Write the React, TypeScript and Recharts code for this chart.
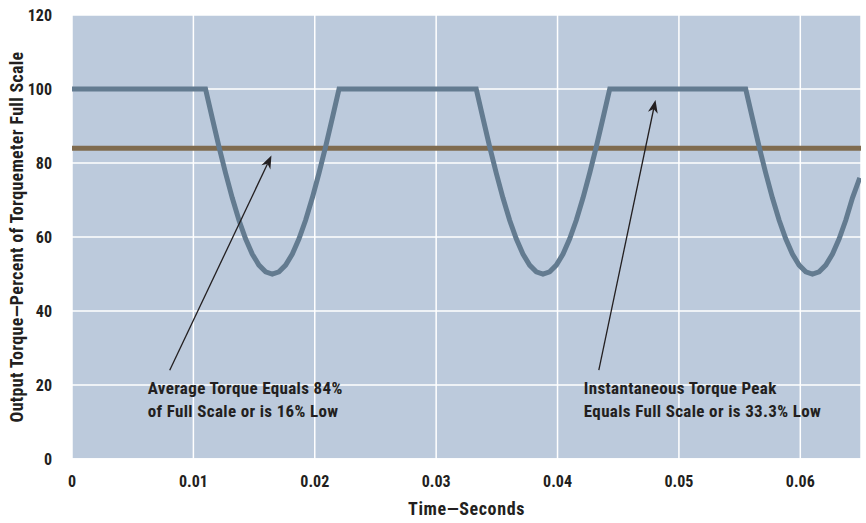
import React from "react";
import {
  ComposedChart,
  Line,
  XAxis,
  YAxis,
  CartesianGrid,
  ReferenceLine,
} from "recharts";

// torque trace (seconds, % of full scale)
const time = [
  0, 0.011, 0.01155, 0.0121, 0.01265, 0.0132, 0.01375, 0.0143, 0.01485, 0.0154, 0.01595,
  0.0165, 0.01705, 0.0176, 0.01815, 0.0187, 0.01925, 0.0198, 0.02035, 0.0209, 0.02145,
  0.022, 0.0333, 0.03385, 0.0344, 0.03495, 0.0355, 0.03605, 0.0366, 0.03715, 0.0377,
  0.03825, 0.0388, 0.03935, 0.0399, 0.04045, 0.041, 0.04155, 0.0421, 0.04265, 0.0432,
  0.04375, 0.0443, 0.0555, 0.05605, 0.0566, 0.05715, 0.0577, 0.05825, 0.0588, 0.05935,
  0.0599, 0.06045, 0.061, 0.06155, 0.0621, 0.06265, 0.0632, 0.06375, 0.0643, 0.0649,
];
const torque = [
  100, 100, 92.2, 84.5, 77.3, 70.6, 64.6, 59.5, 55.4, 52.4, 50.6,
  50, 50.6, 52.4, 55.4, 59.5, 64.6, 70.6, 77.3, 84.5, 92.2,
  100, 100, 92.2, 84.5, 77.3, 70.6, 64.6, 59.5, 55.4, 52.4,
  50.6, 50, 50.6, 52.4, 55.4, 59.5, 64.6, 70.6, 77.3, 84.5,
  92.2, 100, 100, 92.2, 84.5, 77.3, 70.6, 64.6, 59.5, 55.4,
  52.4, 50.6, 50, 50.6, 52.4, 55.4, 59.5, 64.6, 70.6, 76,
];
const averageTorque = 84;

const xTicks = [0, 0.01, 0.02, 0.03, 0.04, 0.05, 0.06];
const yTicks = [0, 20, 40, 60, 80, 100, 120];

const noteAverage = ["Average Torque Equals 84%", "of Full Scale or is 16% Low"];
const notePeak = ["Instantaneous Torque Peak", "Equals Full Scale or is 33.3% Low"];

const data = time.map((t, i) => ({ t, torque: torque[i] }));

const FONT = "'Liberation Sans Narrow', 'Arial Narrow', 'Roboto Condensed', Arial, sans-serif";
const TEXT = "#231f20";

const arrowShape = (lines: string[], dx: number) => (props: any) => {
  const { x1, y1, x2, y2 } = props;
  const ang = Math.atan2(y2 - y1, x2 - x1);
  const len = 13;
  const w = 5;
  const bx = x2 - len * Math.cos(ang);
  const by = y2 - len * Math.sin(ang);
  const px = -Math.sin(ang) * w;
  const py = Math.cos(ang) * w;
  const nx = x2 - len * 0.7 * Math.cos(ang);
  const ny = y2 - len * 0.7 * Math.sin(ang);
  return (
    <g>
      <line x1={x1} y1={y1} x2={nx} y2={ny} stroke={TEXT} strokeWidth={1.3} />
      <polygon
        points={`${x2},${y2} ${bx + px},${by + py} ${nx},${ny} ${bx - px},${by - py}`}
        fill={TEXT}
      />
      <text
        x={x1 + dx}
        y={y1 + 24}
        fontFamily={FONT}
        fontWeight="bold"
        fontSize={17}
        letterSpacing={0.35}
        fill={TEXT}
      >
        {lines.map((s, i) => (
          <tspan key={i} x={x1 + dx} dy={i === 0 ? 0 : 23}>
            {s}
          </tspan>
        ))}
      </text>
    </g>
  );
};

export default function App() {
  return (
    <div style={{ position: "absolute", left: 0, top: 0, width: 866, height: 523, background: "#fff" }}>
      <ComposedChart
        width={866}
        height={523}
        data={data}
        margin={{ top: 15, right: 5, left: 0, bottom: 14 }}
      >
        <CartesianGrid fill="#bccadc" stroke="#ffffff" strokeWidth={1.5} />
        <XAxis
          dataKey="t"
          type="number"
          domain={[0, 0.065]}
          allowDataOverflow
          ticks={xTicks}
          tickFormatter={(v) => String(v)}
          tick={{ fill: TEXT, fontSize: 16, fontWeight: "bold", fontFamily: FONT }}
          tickLine={false}
          axisLine={{ stroke: "#ffffff", strokeWidth: 1.5 }}
          tickMargin={11}
          height={50}
          label={{
            value: "Time—Seconds",
            position: "insideBottom",
            offset: -6,
            fill: TEXT,
            fontSize: 18,
            fontWeight: "bold",
            fontFamily: FONT,
            letterSpacing: 0.6,
          }}
        />
        <YAxis
          type="number"
          domain={[0, 120]}
          ticks={yTicks}
          width={72}
          tick={{ fill: TEXT, fontSize: 16, fontWeight: "bold", fontFamily: FONT }}
          tickLine={false}
          axisLine={false}
          tickMargin={14}
          label={{
            value: "Output Torque—Percent of Torquemeter Full Scale",
            angle: -90,
            position: "insideLeft",
            offset: 17,
            style: { textAnchor: "middle", letterSpacing: 0.3 },
            fill: TEXT,
            fontSize: 18,
            fontWeight: "bold",
            fontFamily: FONT,
          }}
        />
        <ReferenceLine y={averageTorque} stroke="#7f6b4f" strokeWidth={5} />
        <Line
          type="linear"
          dataKey="torque"
          stroke="#637b90"
          strokeWidth={5}
          dot={false}
          isAnimationActive={false}
          strokeLinejoin="miter"
        />
        <ReferenceLine
          segment={[
            { x: 0.00805, y: 24 },
            { x: 0.01643, y: 82 },
          ]}
          shape={arrowShape(noteAverage, -22)}
        />
        <ReferenceLine
          segment={[
            { x: 0.0434, y: 24 },
            { x: 0.04807, y: 97 },
          ]}
          shape={arrowShape(notePeak, -15)}
        />
      </ComposedChart>
    </div>
  );
}
